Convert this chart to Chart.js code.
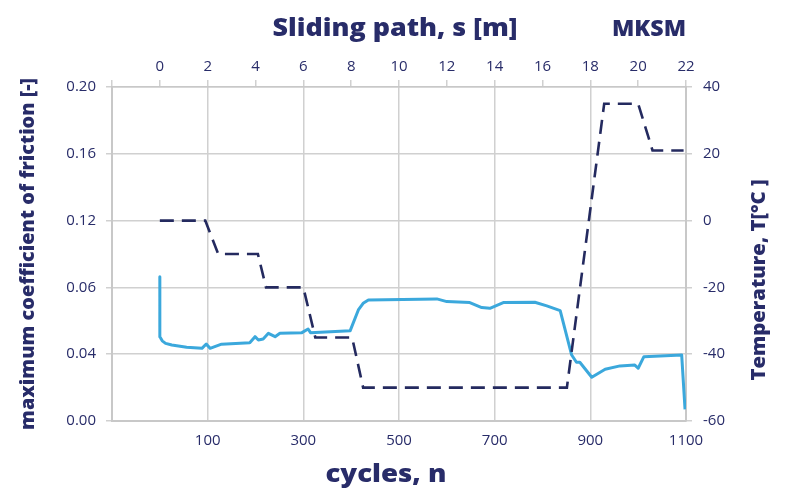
<!DOCTYPE html>
<html>
<head>
<meta charset="utf-8">
<script src="https://cdn.jsdelivr.net/npm/chart.js@4.4.1/dist/chart.umd.min.js"></script>
<style>
  html, body { margin: 0; padding: 0; background: #ffffff; }
  #wrap { width: 793px; height: 491px; }
</style>
</head>
<body>
<div id="wrap"><canvas id="chart" width="793" height="491"></canvas></div>
<script>
// Friction trace: cycles and maximum coefficient of friction
const frictionCycles = [0, 0, 5, 12, 25, 56, 88, 97, 105, 129, 188, 199, 206, 216, 227, 241, 251, 297, 310, 315, 398, 415, 425, 436, 544, 579, 600, 648, 673, 690, 718, 784, 809, 837, 861, 871, 878, 903, 931, 962, 993, 1000, 1012, 1091, 1098];
const frictionValues = [0.0864, 0.0505, 0.048, 0.0465, 0.0455, 0.0441, 0.0435, 0.0461, 0.0435, 0.046, 0.0469, 0.0505, 0.0485, 0.0491, 0.0525, 0.0505, 0.0525, 0.0529, 0.0551, 0.0529, 0.0541, 0.0665, 0.0705, 0.0725, 0.0729, 0.0731, 0.0715, 0.0709, 0.0679, 0.0675, 0.0709, 0.0711, 0.0689, 0.0661, 0.0395, 0.0352, 0.0352, 0.0262, 0.031, 0.033, 0.0335, 0.0316, 0.0385, 0.0395, 0.007];

// Temperature programme: cycles and temperature in °C
const tempCycles = [0, 95, 122, 205, 222, 300, 325, 402, 425, 851, 929, 1000, 1030, 1095];
const tempValues = [0, 0, -10, -10, -20, -20, -35, -35, -50, -50, 35, 35, 21, 21];

// Tick labels of the friction axis (ticks at 0, 0.04, ... 0.20)
const frictionTickLabels = ['0.00', '0.04', '0.06', '0.12', '0.16', '0.20'];

const NAVY = '#282c69';
const BLUE = '#3ba8dc';
const DASH = '#242a5f';
const GRID = '#d0d0d0';
const TICK_FONT = '"Open Sans", Lato, sans-serif';
const TITLE_FONT = '"Open Sans", Lato, sans-serif';

const frictionPoints = frictionCycles.map((c, i) => ({ x: c, y: frictionValues[i] }));
const tempPoints = tempCycles.map((c, i) => ({ x: c, y: tempValues[i] }));

const tickFont = { family: TICK_FONT, size: 15, weight: '500' };

// Draws a text centred at (x, y), squeezed or stretched to a given width
function fitText(ctx, text, x, y, width) {
  const w = ctx.measureText(text).width;
  ctx.save();
  ctx.translate(x, y);
  ctx.scale(width / w, 1);
  ctx.fillText(text, 0, 0);
  ctx.restore();
}

const titlesPlugin = {
  id: 'titles',
  afterDraw(chart) {
    const ctx = chart.ctx;
    ctx.save();
    ctx.fillStyle = NAVY;
    ctx.textBaseline = 'middle';
    ctx.textAlign = 'center';

    ctx.font = '800 25px ' + TITLE_FONT;
    fitText(ctx, 'Sliding path, s [m]', 395, 29, 245);

    ctx.font = '800 23px ' + TITLE_FONT;
    fitText(ctx, 'MKSM', 649, 29, 74);

    ctx.font = '800 25px ' + TITLE_FONT;
    fitText(ctx, 'cycles, n', 386, 475, 121);

    ctx.font = '800 19px ' + TITLE_FONT;
    ctx.save();
    ctx.translate(29, 254);
    ctx.rotate(-Math.PI / 2);
    fitText(ctx, 'maximum coefficient of friction [-]', 0, 0, 352);
    ctx.restore();

    ctx.save();
    ctx.translate(760, 280);
    ctx.rotate(-Math.PI / 2);
    fitText(ctx, 'Temperature, T[°C ]', 0, 0, 201);
    ctx.restore();

    ctx.restore();
  }
};

new Chart(document.getElementById('chart'), {
  type: 'line',
  data: {
    datasets: [
      {
        label: 'Temperature',
        data: tempPoints,
        xAxisID: 'x',
        yAxisID: 'y2',
        borderColor: DASH,
        borderWidth: 2.6,
        borderDash: [14, 8],
        pointRadius: 0,
        tension: 0,
        fill: false
      },
      {
        label: 'Friction',
        data: frictionPoints,
        xAxisID: 'x',
        yAxisID: 'y',
        borderColor: BLUE,
        borderWidth: 3,
        pointRadius: 0,
        tension: 0,
        borderJoinStyle: 'round',
        fill: false
      }
    ]
  },
  options: {
    responsive: false,
    animation: false,
    layout: { padding: 0 },
    plugins: {
      legend: { display: false },
      tooltip: { enabled: false },
      title: { display: false }
    },
    scales: {
      x: {
        type: 'linear',
        position: 'bottom',
        min: -100,
        max: 1100,
        afterFit: s => { s.height = 70; },
        ticks: {
          stepSize: 200,
          color: NAVY,
          font: tickFont,
          padding: 11,
          maxRotation: 0,
          callback: v => (v < 0 ? '' : String(v))
        },
        grid: { color: GRID, lineWidth: 1.5, drawTicks: false },
        border: { color: '#c8c8c8', width: 2 }
      },
      x2: {
        type: 'linear',
        position: 'top',
        min: -2,
        max: 22,
        afterFit: s => { s.height = 87; },
        ticks: {
          stepSize: 2,
          color: NAVY,
          font: tickFont,
          padding: 4,
          maxRotation: 0,
          callback: v => (v < 0 ? '' : String(v))
        },
        grid: { color: GRID, lineWidth: 1.5, drawOnChartArea: false, tickLength: 7 },
        border: { color: '#c8c8c8', width: 1.5 }
      },
      y: {
        type: 'linear',
        position: 'left',
        min: 0,
        max: 0.2,
        afterFit: s => { s.width = 112; },
        ticks: {
          stepSize: 0.04,
          color: NAVY,
          font: tickFont,
          padding: 10,
          callback: (v, i) => frictionTickLabels[i]
        },
        grid: { color: GRID, lineWidth: 1.5, tickLength: 6 },
        border: { color: '#c8c8c8', width: 2 }
      },
      y2: {
        type: 'linear',
        position: 'right',
        min: -60,
        max: 40,
        afterFit: s => { s.width = 107; },
        ticks: {
          stepSize: 20,
          color: NAVY,
          font: tickFont,
          padding: 11
        },
        grid: { color: GRID, lineWidth: 1.5, drawOnChartArea: false, tickLength: 6 },
        border: { color: '#c8c8c8', width: 2 }
      }
    }
  },
  plugins: [titlesPlugin]
});
</script>
</body>
</html>
